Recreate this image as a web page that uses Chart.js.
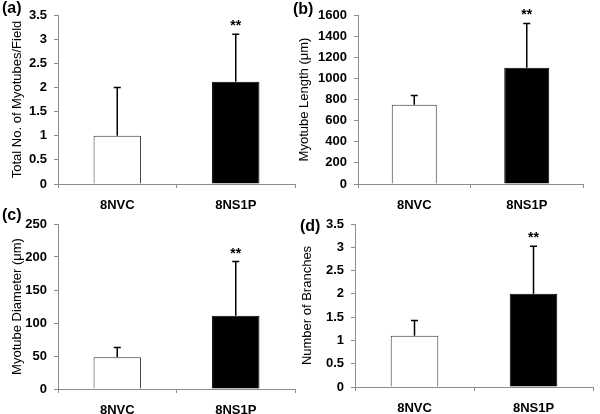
<!DOCTYPE html>
<html>
<head>
<meta charset="utf-8">
<script src="https://cdn.jsdelivr.net/npm/chart.js@4.4.1/dist/chart.umd.min.js"></script>
<style>
body { margin: 0; background: #fff; }
#wrap { position: relative; width: 600px; height: 414px; overflow: hidden; }
canvas { position: absolute; }
.tag { position: absolute; font: bold 16px "Liberation Sans", Arial, sans-serif; color: #000; z-index: 2; }
</style>
</head>
<body>
<div id="wrap">
  <canvas id="chartA" style="left:0;top:0" width="300" height="215"></canvas>
  <canvas id="chartB" style="left:290px;top:0" width="310" height="215"></canvas>
  <canvas id="chartC" style="left:0;top:200px" width="300" height="214"></canvas>
  <canvas id="chartD" style="left:290px;top:200px" width="310" height="214"></canvas>
  <div class="tag" style="left:2px;top:-1px">(a)</div>
  <div class="tag" style="left:293px;top:0px">(b)</div>
  <div class="tag" style="left:2px;top:206px">(c)</div>
  <div class="tag" style="left:300px;top:217px">(d)</div>
</div>
<script>
const categories = ['8NVC', '8NS1P'];

// (a) total myotubes per field
const myotubeCount = [1.0, 2.12];
const myotubeCountErr = [1.0, 0.98];
// (b) myotube length, µm
const myotubeLength = [750, 1100];
const myotubeLengthErr = [88, 420];
// (c) myotube diameter, µm
const myotubeDiameter = [48, 111];
const myotubeDiameterErr = [15, 82];
// (d) branches
const branchCount = [1.1, 2.0];
const branchCountErr = [0.33, 1.02];

const significance = ['', '**'];

const FONT = '"Liberation Sans", Arial, sans-serif';

const errorBars = {
    id: 'errorBars',
    afterDatasetsDraw(chart, args, opts) {
        const ctx = chart.ctx;
        const y = chart.scales.y;
        const meta = chart.getDatasetMeta(0);
        const values = chart.data.datasets[0].data;
        ctx.save();
        ctx.strokeStyle = '#000';
        ctx.lineWidth = 1.5;
        meta.data.forEach((bar, i) => {
            const top = y.getPixelForValue(values[i] + opts.errors[i]);
            const base = y.getPixelForValue(values[i]);
            ctx.beginPath();
            ctx.moveTo(bar.x, base);
            ctx.lineTo(bar.x, top);
            ctx.moveTo(bar.x - 3.5, top);
            ctx.lineTo(bar.x + 3.5, top);
            ctx.stroke();
            if (opts.marks[i]) {
                ctx.fillStyle = '#000';
                ctx.font = 'bold 14px ' + FONT;
                ctx.textAlign = 'center';
                ctx.textBaseline = 'alphabetic';
                ctx.fillText(opts.marks[i], bar.x, top - 4);
            }
        });
        ctx.restore();
    }
};

function makeChart(canvasId, values, errors, yTitle, yMax, yStep, layout) {
    const ctx = document.getElementById(canvasId).getContext('2d');
    return new Chart(ctx, {
        type: 'bar',
        data: {
            labels: categories,
            datasets: [{
                data: values,
                backgroundColor: ['#ffffff', '#000000'],
                borderColor: ['#333333', '#000000'],
                borderWidth: 1,
                borderSkipped: 'bottom',
                categoryPercentage: 0.8,
                barPercentage: 0.5
            }]
        },
        options: {
            responsive: false,
            animation: false,
            layout: { padding: layout.padding },
            plugins: {
                legend: { display: false },
                tooltip: { enabled: false },
                errorBars: { errors: errors, marks: significance }
            },
            scales: {
                x: {
                    grid: { drawOnChartArea: false, offset: true, tickLength: 4, color: '#8c8c8c' },
                    border: { color: '#8c8c8c' },
                    ticks: { color: '#000', font: { family: FONT, size: 13, weight: 'bold' }, padding: 10 },
                    afterFit: s => { s.height = layout.xHeight; }
                },
                y: {
                    min: 0,
                    max: yMax,
                    grid: { drawOnChartArea: false, tickLength: 4, color: '#8c8c8c' },
                    border: { color: '#8c8c8c' },
                    ticks: {
                        stepSize: yStep,
                        color: '#000',
                        font: { family: FONT, size: 13, weight: 'bold' },
                        padding: 7,
                        callback: v => String(v)
                    },
                    title: {
                        display: true,
                        text: yTitle,
                        color: '#000',
                        font: { family: FONT, size: 13 },
                        padding: { top: layout.titlePad, bottom: 0 }
                    },
                    afterFit: s => { s.width = layout.yWidth; }
                }
            }
        },
        plugins: [errorBars]
    });
}

makeChart('chartA', myotubeCount, myotubeCountErr, 'Total No. of Myotubes/Field', 3.5, 0.5,
    { padding: { top: 15, right: 5, left: 0, bottom: 0 }, yWidth: 58, xHeight: 31, titlePad: 10 });
makeChart('chartB', myotubeLength, myotubeLengthErr, 'Myotube Length (\u03bcm)', 1600, 200,
    { padding: { top: 15, right: 17, left: 0, bottom: 0 }, yWidth: 68, xHeight: 31, titlePad: 7 });
makeChart('chartC', myotubeDiameter, myotubeDiameterErr, 'Myotube Diameter (\u03bcm)', 250, 50,
    { padding: { top: 24, right: 5, left: 0, bottom: 0 }, yWidth: 58, xHeight: 25, titlePad: 10 });
makeChart('chartD', branchCount, branchCountErr, 'Number of Branches', 3.5, 0.5,
    { padding: { top: 24, right: 7, left: 0, bottom: 0 }, yWidth: 65, xHeight: 27, titlePad: 10 });
</script>
</body>
</html>
